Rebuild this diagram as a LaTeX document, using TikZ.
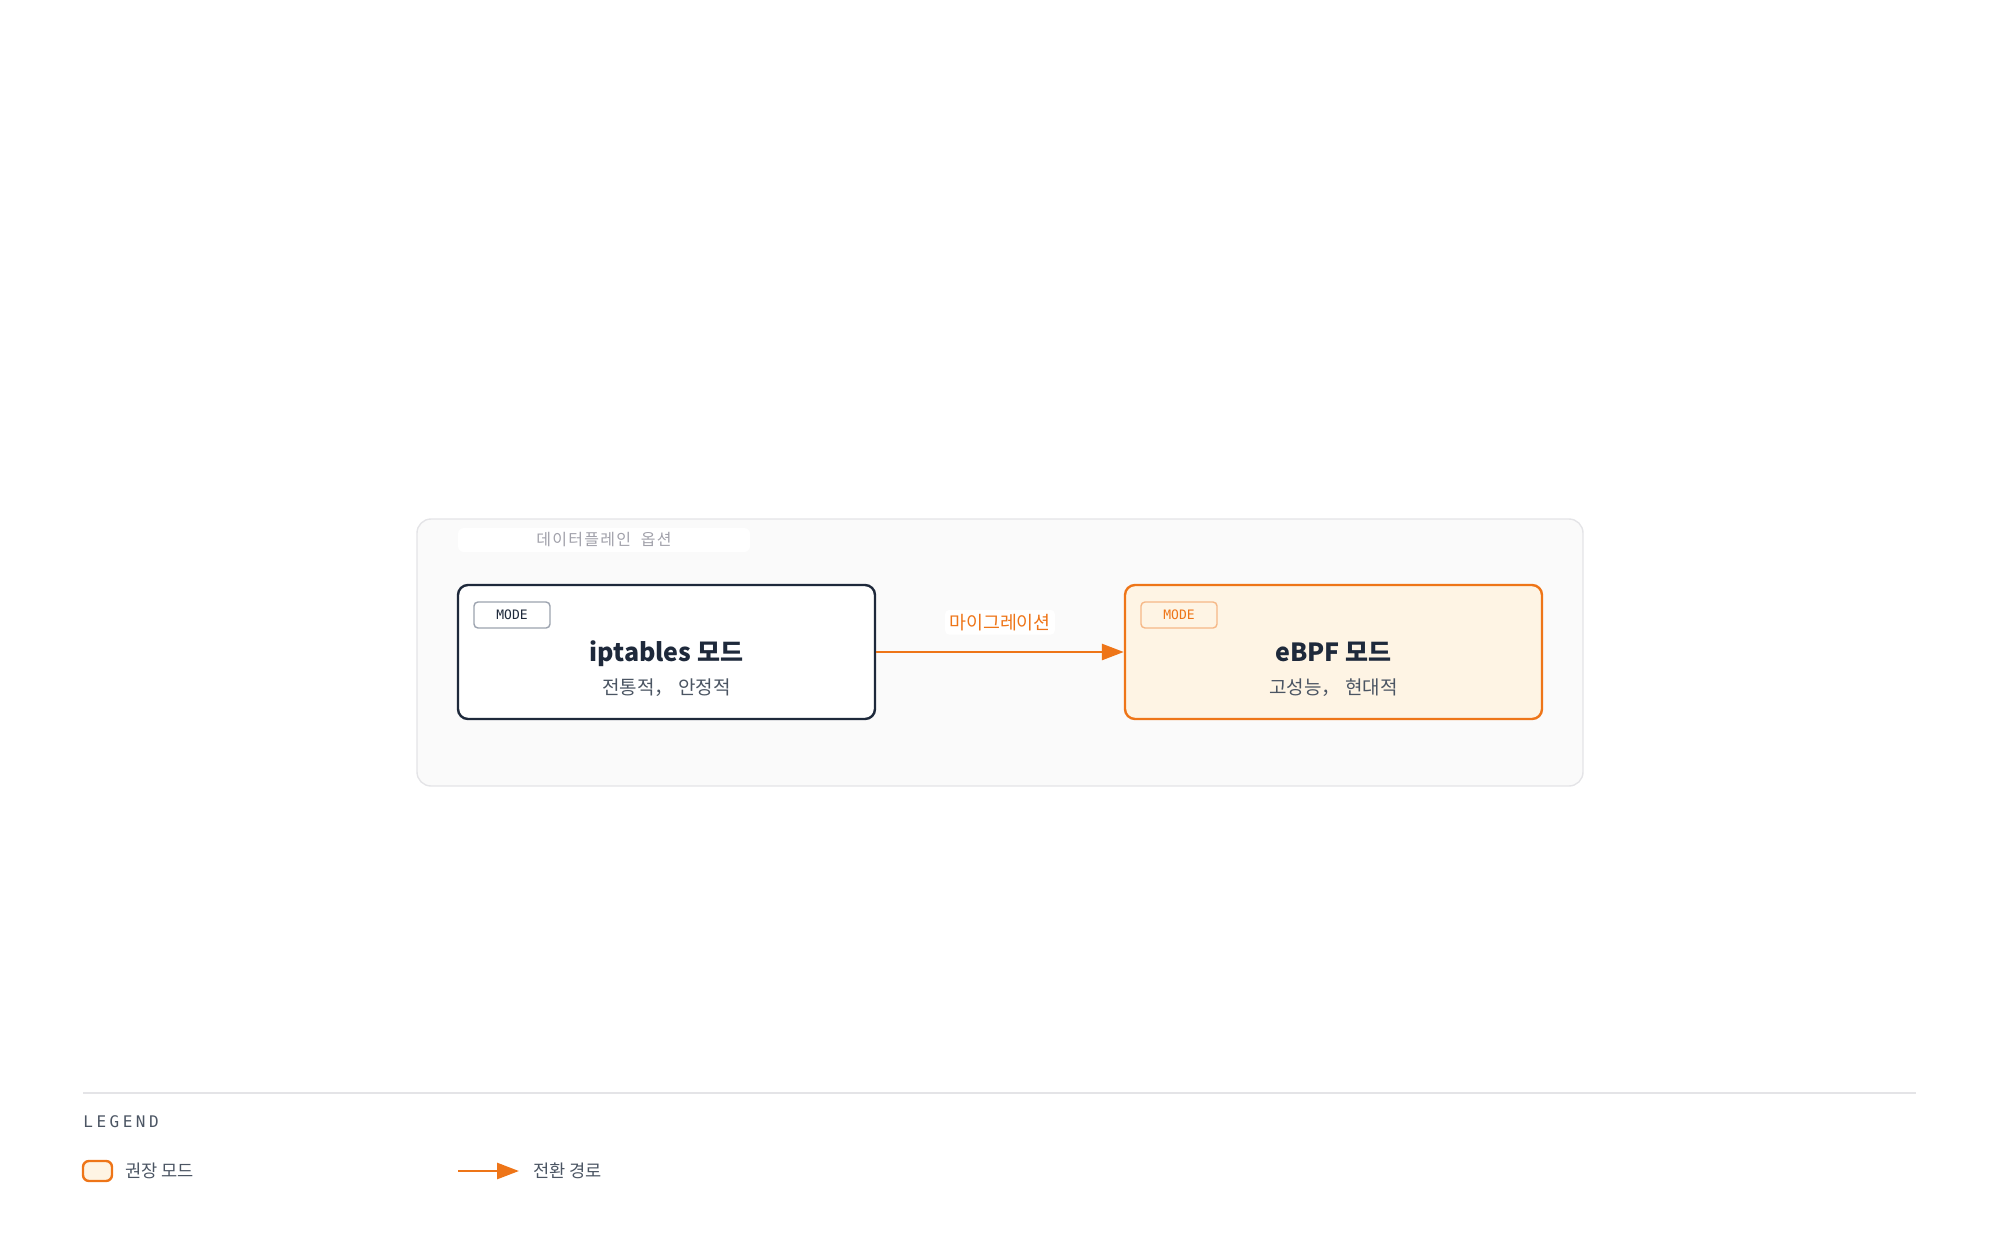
\documentclass[tikz,border=0pt]{standalone}
\usepackage{fontspec}
\setmainfont{Noto Sans CJK KR}
\newfontfamily\spacedfont[LetterSpace=8]{Noto Sans CJK KR}
\newfontfamily\monofont{DejaVu Sans Mono}
\newfontfamily\legendfont[LetterSpace=22]{DejaVu Sans Mono}
\usetikzlibrary{arrows.meta,positioning,backgrounds}

\definecolor{ink}{HTML}{1E293B}
\definecolor{accent}{HTML}{EE7518}
\definecolor{accentfill}{HTML}{FEF4E4}
\definecolor{accentsoft}{HTML}{F6B887}
\definecolor{panelfill}{HTML}{FAFAFA}
\definecolor{panelline}{HTML}{E4E4E7}
\definecolor{subtext}{HTML}{4B5563}
\definecolor{mutetext}{HTML}{A1A1AA}
\definecolor{badgeline}{HTML}{9CA3AF}

\begin{document}
\begin{tikzpicture}
  [x=0.5pt,y=-0.5pt,>={Triangle[length=11pt,width=8pt]},
  mode box/.style= {draw=ink,line width=1.2pt,fill=white,rounded corners=5pt,
    minimum width=208.5pt,minimum height=67pt,inner sep=0pt},
  pick box/.style= {mode box,draw=accent,fill=accentfill},
  badge/.style= {draw=badgeline,line width=0.7pt,rounded corners=2pt,fill=white,
    minimum width=38pt,minimum height=13pt,inner sep=0pt,
    font=\monofont\fontsize{6.5}{7}\selectfont,text=ink},
  pick badge/.style= {badge,draw=accentsoft,fill=accentfill,text=accent},
  mode title/.style= {font=\bfseries\fontsize{12.5}{14}\selectfont,text=ink,
    inner sep=0pt,anchor=base},
  mode note/.style= {font=\fontsize{9.5}{11}\selectfont,text=subtext,
    inner sep=0pt,anchor=base},
  flow/.style= {->,draw=accent,line width=1.4pt},
  legend text/.style= {font=\fontsize{8.8}{10}\selectfont,text=subtext,inner sep=0pt,anchor=west}]
  \useasboundingbox (0,0) rectangle (2000,1252);

  % panel
  \node [draw=panelline,line width=0.7pt,fill=panelfill,rounded corners=7pt,
    minimum width=583pt,minimum height=133.5pt] (panel) at (1000,652.5) {};
  \node [fill=white,rounded corners=3pt,minimum width=146pt,minimum height=12pt,
    inner sep=0pt,font=\spacedfont\fontsize{8}{9}\selectfont,text=mutetext] (paneltitle)
    at (604,540) {데이터플레인 \ 옵션};

  % modes
  \node [mode box] (ipt) at (666.5,652) {};
  \node [badge] (iptbadge) at (512,615) {MODE};
  \node [mode title] (ipttitle) at (666.5,661) {iptables 모드};
  \node [mode note] (iptnote) at (666.5,694) {전통적， 안정적};

  \node [pick box] (ebpf) at (1333.5,652) {};
  \node [pick badge] (ebpfbadge) at (1179,615) {MODE};
  \node [mode title] (ebpftitle) at (1333.5,661) {eBPF 모드};
  \node [mode note] (ebpfnote) at (1333.5,694) {고성능， 현대적};

  \draw [flow] (ipt) -- (ebpf)
  node [midway,above=8pt,fill=white,rounded corners=2pt,inner sep=2pt,
    font=\fontsize{9.2}{10}\selectfont,text=accent] (flowlabel) {마이그레이션};

  % legend
  \coordinate (rulel) at (83,1093);
  \coordinate (ruler) at (1916,1093);
  \draw [panelline,line width=0.8pt] (rulel) -- (ruler);
  \node [anchor=west,inner sep=0pt,font=\legendfont\fontsize{8}{10}\selectfont,text=subtext]
    (legendhead) at (83,1122) {LEGEND};
  \node [draw=accent,fill=accentfill,line width=1.2pt,rounded corners=3pt,
    minimum width=14.5pt,minimum height=10pt,inner sep=0pt] (keybox) at (97.5,1171) {};
  \node [legend text] (keyboxtext) at (125,1171) {권장 모드};
  \coordinate (keyflowa) at (458,1171);
  \coordinate (keyflowb) at (519,1171);
  \draw [flow] (keyflowa) -- (keyflowb);
  \node [legend text] (keyflowtext) at (533,1171) {전환 경로};
\end{tikzpicture}
\end{document}
